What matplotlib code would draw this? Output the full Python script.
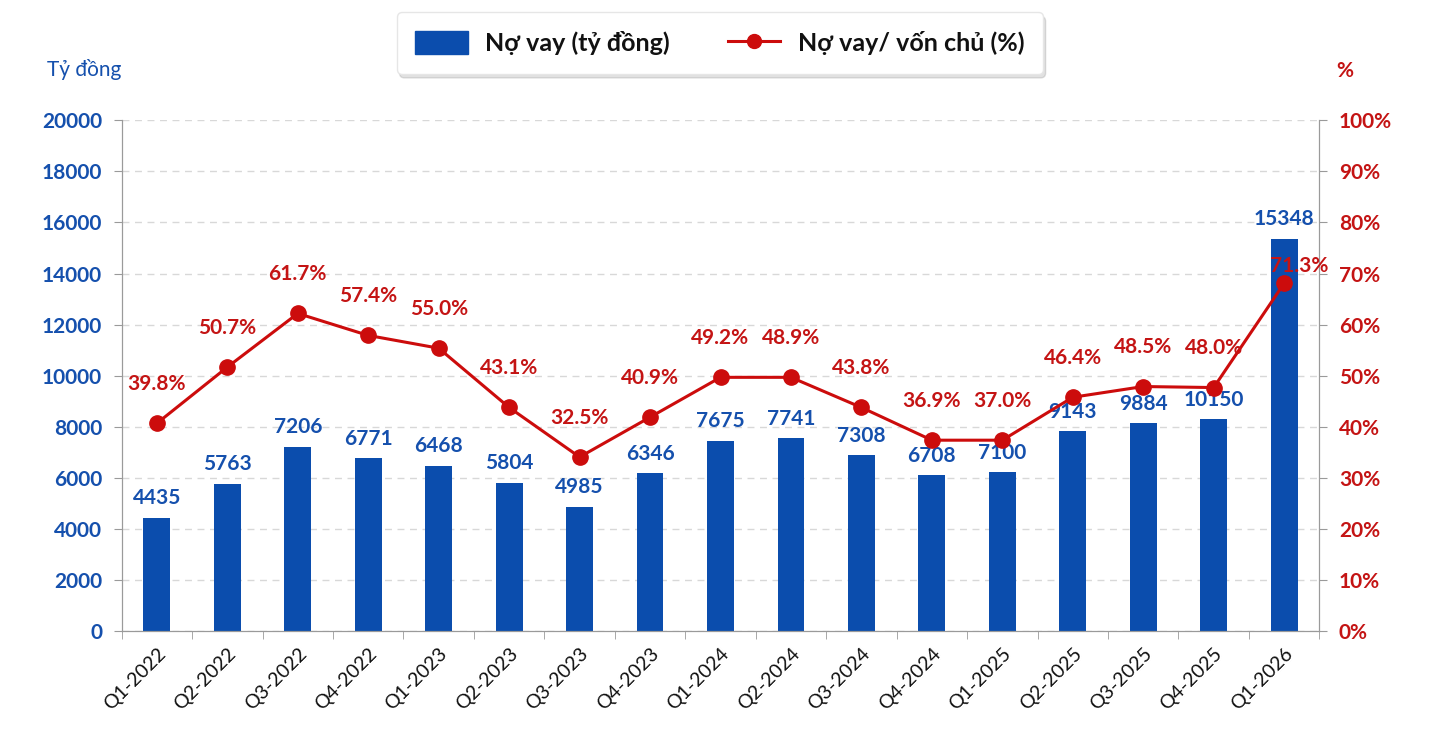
import matplotlib.pyplot as plt
import matplotlib
from matplotlib.lines import Line2D
from matplotlib.patches import Patch

matplotlib.rcParams['font.family'] = ['Lato', 'DejaVu Sans']

quarters = ["Q1-2022", "Q2-2022", "Q3-2022", "Q4-2022", "Q1-2023", "Q2-2023",
            "Q3-2023", "Q4-2023", "Q1-2024", "Q2-2024", "Q3-2024", "Q4-2024",
            "Q1-2025", "Q2-2025", "Q3-2025", "Q4-2025", "Q1-2026"]

# bar heights as drawn in the picture, and the labels printed above them
debt_bars = [4435, 5763, 7206, 6771, 6468, 5804, 4870, 6180, 7440, 7550,
             6890, 6100, 6220, 7830, 8140, 8300, 15348]
debt_labels = ["4435", "5763", "7206", "6771", "6468", "5804", "4985", "6346",
               "7675", "7741", "7308", "6708", "7100", "9143", "9884", "10150", "15348"]

# debt / equity points as drawn, and their printed labels
ratio_points = [40.7, 51.7, 62.2, 57.9, 55.4, 43.8, 34.1, 41.9, 49.7, 49.7,
                43.8, 37.4, 37.4, 45.8, 47.9, 47.7, 68.1]
ratio_labels = ["39.8%", "50.7%", "61.7%", "57.4%", "55.0%", "43.1%", "32.5%", "40.9%",
                "49.2%", "48.9%", "43.8%", "36.9%", "37.0%", "46.4%", "48.5%", "48.0%", "71.3%"]

blue = '#0b4dad'
blue_txt = '#1550ad'
red = '#cc0c0c'
red_txt = '#c41414'
grey = '#9a9a9a'

fig = plt.figure(figsize=(14.31, 7.29), dpi=100)
ax = fig.add_axes([0.085, 0.134, 0.837, 0.701])
ax2 = ax.twinx()

x = list(range(len(quarters)))
ax.bar(x, debt_bars, width=0.38, color=blue, zorder=2)
for i in x:
    ax.annotate(debt_labels[i], (i, debt_bars[i]), xytext=(0, 7), textcoords='offset points',
                ha='center', va='bottom', color=blue_txt, fontsize=15, fontweight='bold')

ax2.plot(x, ratio_points, color=red, lw=2.2, marker='o', markersize=11, zorder=3)
for i in x:
    dx, dy = 0, 21
    if i == len(x) - 1:
        dx, dy = 11, 5
    ax2.annotate(ratio_labels[i], (i, ratio_points[i]), xytext=(dx, dy), textcoords='offset points',
                 ha='center', va='bottom', color=red_txt, fontsize=15, fontweight='bold')

ax.set_xlim(-0.5, len(x) - 0.5)
ax.set_ylim(0, 20000)
ax2.set_ylim(0, 100)
ax.set_yticks(range(0, 20001, 2000))
ax2.set_yticks(range(0, 101, 10))
ax2.set_yticklabels([f"{v}%" for v in range(0, 101, 10)])

ax.yaxis.grid(True, linestyle=(0, (5, 4)), color='#d8d8d8', lw=1)
ax.set_axisbelow(True)

ax.set_xticks(x)
ax.set_xticklabels(quarters, rotation=45, ha='right', rotation_mode='anchor', fontsize=14,
                   color='#111111')
ax.tick_params(axis='x', length=0, pad=10)
ax.set_xticks([i - 0.5 for i in range(len(x) + 1)], minor=True)
ax.tick_params(axis='x', which='minor', length=6, color=grey)
ax.tick_params(axis='y', colors=grey, labelcolor=blue_txt, labelsize=15, length=6, pad=8)
ax2.tick_params(axis='y', colors=grey, labelcolor=red_txt, labelsize=15, length=6, pad=8)
for t in ax.get_yticklabels() + ax2.get_yticklabels():
    t.set_fontweight('bold')

for a in (ax, ax2):
    a.spines['top'].set_visible(False)
    for s in ('left', 'right', 'bottom'):
        a.spines[s].set_color(grey)

fig.text(0.059, 0.905, "Tỷ đồng", color=blue_txt, fontsize=15, ha='center', va='center')
fig.text(0.94, 0.902, "%", color=red_txt, fontsize=15, fontweight='bold', ha='center', va='center')

handles = [Patch(facecolor=blue, edgecolor=blue),
           Line2D([0], [0], color=red, lw=2.2, marker='o', markersize=10)]
leg = fig.legend(handles, ["Nợ vay (tỷ đồng)", "Nợ vay/ vốn chủ (%)"], loc='center',
                 bbox_to_anchor=(0.503, 0.941), ncol=2, fontsize=18, frameon=True,
                 fancybox=True, shadow={'color': '#888888', 'alpha': 0.25, 'ox': 2, 'oy': -3},
                 handlelength=2.1, handleheight=1.0, handletextpad=0.7,
                 columnspacing=2.3, borderpad=0.75, labelcolor='#111111')
for t in leg.get_texts():
    t.set_fontweight('bold')
leg.get_frame().set_edgecolor('#e6e6e6')

plt.savefig("out.png", dpi=100)
